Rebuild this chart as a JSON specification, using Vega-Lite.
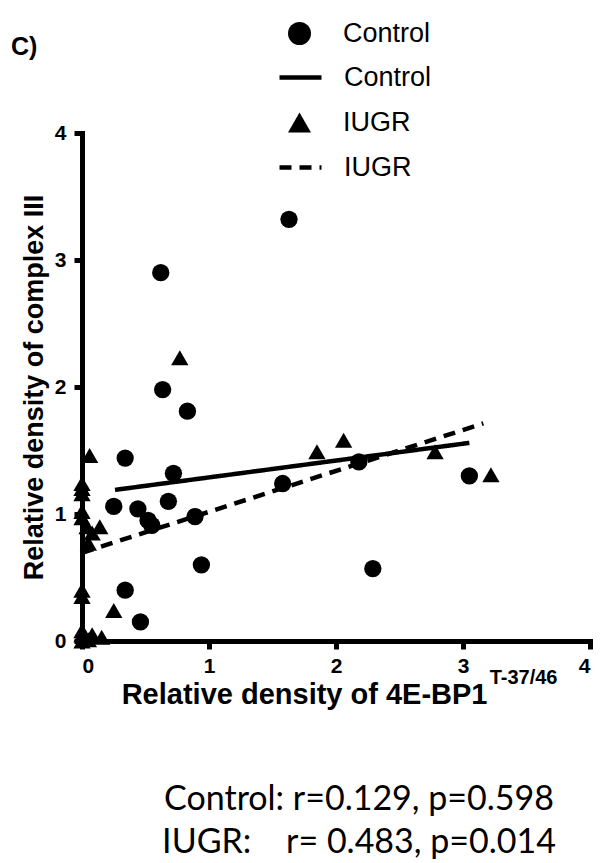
{
  "$schema": "https://vega.github.io/schema/vega-lite/v6.json",
  "width": 508,
  "height": 508,
  "autosize": {"type": "none"},
  "padding": {"left": 82, "top": 133, "right": 16, "bottom": 222},
  "background": "white",
  "config": {
    "view": {"stroke": null},
    "axis": {
      "grid": false,
      "domainColor": "black",
      "domainWidth": 5,
      "domainCap": "square",
      "tickColor": "black",
      "tickWidth": 5,
      "tickSize": 8,
      "labelFont": "Liberation Sans",
      "labelFontSize": 21,
      "labelFontWeight": "bold",
      "labelColor": "black",
      "titleFont": "Liberation Sans",
      "titleFontSize": 27,
      "titleFontWeight": "bold",
      "titleColor": "black"
    },
    "legend": {
      "labelFont": "Liberation Sans",
      "labelFontSize": 27,
      "labelFontWeight": "normal",
      "labelColor": "black",
      "padding": 0,
      "title": null
    }
  },
  "resolve": {"legend": {"shape": "independent", "strokeDash": "independent"}},
  "title": {
    "text": ["Control: r=0.129, p=0.598", "IUGR:\u00a0\u00a0\u00a0 r= 0.483, p=0.014"],
    "orient": "bottom",
    "anchor": "middle",
    "font": "Lato",
    "fontSize": 34,
    "fontWeight": "normal",
    "color": "black",
    "lineHeight": 43,
    "offset": 74,
    "dx": 23
  },
  "datasets": {
    "points": [
      {"group": "Control", "x": 1.63, "y": 3.32},
      {"group": "Control", "x": 0.62, "y": 2.90},
      {"group": "Control", "x": 0.635, "y": 1.98},
      {"group": "Control", "x": 0.83, "y": 1.81},
      {"group": "Control", "x": 0.34, "y": 1.44},
      {"group": "Control", "x": 0.72, "y": 1.32},
      {"group": "Control", "x": 0.25, "y": 1.06},
      {"group": "Control", "x": 0.44, "y": 1.04},
      {"group": "Control", "x": 0.68, "y": 1.10},
      {"group": "Control", "x": 0.52, "y": 0.95},
      {"group": "Control", "x": 0.55, "y": 0.91},
      {"group": "Control", "x": 0.89, "y": 0.98},
      {"group": "Control", "x": 0.94, "y": 0.60},
      {"group": "Control", "x": 0.34, "y": 0.40},
      {"group": "Control", "x": 0.46, "y": 0.15},
      {"group": "Control", "x": 2.18, "y": 1.41},
      {"group": "Control", "x": 3.05, "y": 1.30},
      {"group": "Control", "x": 2.29, "y": 0.57},
      {"group": "Control", "x": 1.58, "y": 1.24},
      {"group": "IUGR", "x": 0.77, "y": 2.23},
      {"group": "IUGR", "x": 0.06, "y": 1.46},
      {"group": "IUGR", "x": 1.85, "y": 1.49},
      {"group": "IUGR", "x": 2.06, "y": 1.58},
      {"group": "IUGR", "x": 2.78, "y": 1.49},
      {"group": "IUGR", "x": 3.22, "y": 1.31},
      {"group": "IUGR", "x": 0.0, "y": 1.24},
      {"group": "IUGR", "x": 0.0, "y": 1.20},
      {"group": "IUGR", "x": 0.0, "y": 1.16},
      {"group": "IUGR", "x": 0.0, "y": 1.02},
      {"group": "IUGR", "x": 0.0, "y": 0.97},
      {"group": "IUGR", "x": 0.04, "y": 0.90},
      {"group": "IUGR", "x": 0.14, "y": 0.90},
      {"group": "IUGR", "x": 0.08, "y": 0.85},
      {"group": "IUGR", "x": 0.05, "y": 0.77},
      {"group": "IUGR", "x": 0.25, "y": 0.24},
      {"group": "IUGR", "x": 0.0, "y": 0.40},
      {"group": "IUGR", "x": 0.0, "y": 0.35},
      {"group": "IUGR", "x": 0.0, "y": 0.08},
      {"group": "IUGR", "x": 0.0, "y": 0.05},
      {"group": "IUGR", "x": 0.08, "y": 0.05},
      {"group": "IUGR", "x": 0.155, "y": 0.03},
      {"group": "IUGR", "x": 0.0, "y": 0.0},
      {"group": "IUGR", "x": 0.05, "y": 0.01},
      {"group": "IUGR", "x": 0.02, "y": 0.02}
    ],
    "lines": [
      {"fit": "Control", "x": 0.26, "y": 1.19},
      {"fit": "Control", "x": 3.05, "y": 1.56},
      {"fit": "IUGR", "x": 0.0, "y": 0.695},
      {"fit": "IUGR", "x": 3.16, "y": 1.713}
    ]
  },
  "layer": [
    {
      "data": {"name": "lines"},
      "mark": {"type": "line", "strokeWidth": 4.5, "color": "black", "strokeCap": "butt"},
      "encoding": {
        "x": {
          "field": "x", "type": "quantitative",
          "scale": {"domain": [0, 4], "nice": false},
          "axis": {
            "values": [0, 1, 2, 3, 4], "format": "d", "labelPadding": 6,
            "title": "Relative density of 4E-BP1", "titleFontSize": 29,
            "titleAlign": "right", "titleX": 405, "titlePadding": 4
          }
        },
        "y": {
          "field": "y", "type": "quantitative",
          "scale": {"domain": [0, 4], "nice": false},
          "axis": {
            "values": [0, 1, 2, 3, 4], "format": "d", "labelPadding": 8,
            "title": "Relative density of complex III", "titlePadding": 6
          }
        },
        "detail": {"field": "fit"},
        "strokeDash": {
          "field": "fit", "type": "nominal",
          "scale": {"domain": ["Control", "IUGR"], "range": [[1, 0], [12, 8]]},
          "legend": {
            "orient": "none",
            "legendX": 195,
            "legendY": -79,
            "symbolSize": 1764,
            "symbolStrokeWidth": 4.5,
            "symbolStrokeColor": "black",
            "labelOffset": 20,
            "rowPadding": 53
          }
        }
      }
    },
    {
      "data": {"name": "points"},
      "mark": {"type": "point", "filled": true, "color": "black", "size": 300, "opacity": 1},
      "encoding": {
        "x": {"field": "x", "type": "quantitative"},
        "y": {"field": "y", "type": "quantitative"},
        "shape": {
          "field": "group", "type": "nominal",
          "scale": {"domain": ["Control", "IUGR"], "range": ["circle", "triangle-up"]},
          "legend": {
            "orient": "none",
            "legendX": 204,
            "legendY": -113,
            "symbolSize": 529,
            "symbolFillColor": "black",
            "symbolOpacity": 1,
            "labelOffset": 30,
            "rowPadding": 60
          }
        }
      }
    },
    {
      "data": {"values": [{}]},
      "mark": {"type": "text", "font": "Liberation Sans", "fontSize": 20, "fontWeight": "bold", "color": "black", "align": "left", "baseline": "middle"},
      "encoding": {
        "x": {"datum": 3.21, "type": "quantitative"},
        "y": {"datum": -0.29, "type": "quantitative"},
        "text": {"value": "T-37/46"}
      }
    },
    {
      "data": {"values": [{}]},
      "mark": {"type": "text", "font": "Liberation Sans", "fontSize": 25, "fontWeight": "bold", "color": "black", "align": "left", "baseline": "middle"},
      "encoding": {
        "x": {"datum": -0.56, "type": "quantitative"},
        "y": {"datum": 4.68, "type": "quantitative"},
        "text": {"value": "C)"}
      }
    }
  ]
}
